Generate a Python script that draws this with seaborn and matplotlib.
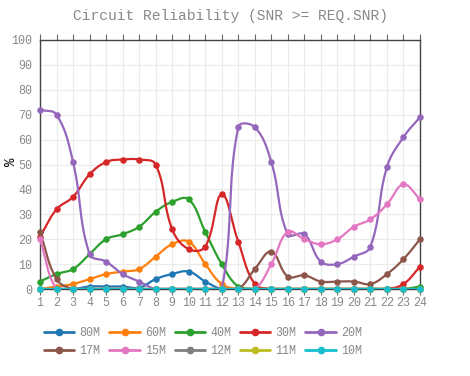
import numpy as np
import matplotlib.pyplot as plt
from matplotlib.lines import Line2D
import seaborn as sns

hours = list(range(1, 25))
bands = ['80M', '60M', '40M', '30M', '20M', '17M', '15M', '12M', '11M', '10M']

m80 = [0, 0, 0, 1, 1, 1, 0.5, 4, 6, 7, 3, 0, 0, 0, 0, 0, 0, 0, 0, 0, 0, 0, 0, 0]
m60 = [0, 1, 2, 4, 6, 7, 8, 13, 18, 19, 10, 2, 0, 0, 0, 0, 0, 0, 0, 0, 0, 0, 0, 0]
m40 = [3, 6, 8, 14, 20, 22, 25, 31, 35, 36, 23, 10, 1, 0, 0, 0, 0, 0, 0, 0, 0, 0, 0, 1]
m30 = [21, 32, 37, 46, 51, 52, 52, 50, 24, 16, 17, 38, 19, 2, 0, 0, 0, 0, 0, 0, 0, 0, 2, 9]
m20 = [72, 70, 51, 14, 11, 6, 3, 0, 0, 0, 0, 0, 65, 65, 51, 22, 22, 11, 10, 13, 17, 49, 61, 69]
m17 = [23, 4, 0, 0, 0, 0, 0, 0, 0, 0, 0, 0, 0, 8, 15, 5, 5.5, 3, 3, 3, 2, 6, 12, 20]
m15 = [20, 0, 0, 0, 0, 0, 0, 0, 0, 0, 0, 0, 0, 0, 10, 23, 20, 18, 20, 25, 28, 34, 42, 36]
m12 = [0] * 24
m11 = [0] * 24
m10 = [0] * 24
series = [m80, m60, m40, m30, m20, m17, m15, m12, m11, m10]

colors = sns.color_palette("tab10", 10)


def smooth(x, y, t=0.4, sx=16.5, sy=2.49, n=24):
    # cubic bezier curve through the points (tension style), for drawing only
    p = np.column_stack([np.array(x, float) * sx, np.array(y, float) * sy])
    cnt = len(p)
    cin, cout = [], []
    for i in range(cnt):
        p0 = p[max(i - 1, 0)]
        p1 = p[i]
        p2 = p[min(i + 1, cnt - 1)]
        d01 = np.hypot(*(p1 - p0))
        d12 = np.hypot(*(p2 - p1))
        tot = d01 + d12
        s01 = d01 / tot if tot else 0
        s12 = d12 / tot if tot else 0
        a = p1 - t * s01 * (p2 - p0)
        b = p1 + t * s12 * (p2 - p0)
        a[1] = np.clip(a[1], 0, 100 * sy)
        b[1] = np.clip(b[1], 0, 100 * sy)
        cin.append(a)
        cout.append(b)
    tt = np.linspace(0, 1, n)[:, None]
    pts = []
    for i in range(cnt - 1):
        P0, P1, P2, P3 = p[i], cout[i], cin[i + 1], p[i + 1]
        seg = ((1 - tt) ** 3) * P0 + 3 * ((1 - tt) ** 2) * tt * P1 + 3 * (1 - tt) * tt ** 2 * P2 + tt ** 3 * P3
        pts.append(seg if i == 0 else seg[1:])
    pts = np.vstack(pts)
    return pts[:, 0] / sx, pts[:, 1] / sy


sns.set_style("white")
plt.rcParams['font.family'] = ['Liberation Mono', 'DejaVu Sans Mono']

fig = plt.figure(figsize=(4.7, 3.76), dpi=100)
ax = fig.add_axes([40 / 470, 1 - 289 / 376, 380 / 470, 249 / 376])

for i, (name, vals) in enumerate(zip(bands, series)):
    sx, sy = smooth(hours, vals)
    sns.lineplot(x=sx, y=sy, color=colors[i], lw=1.6, sort=False, estimator=None,
                 ax=ax, zorder=3 + i * 0.1)
    sns.scatterplot(x=hours, y=vals, color=colors[i], s=22, edgecolor=colors[i],
                    linewidth=0, ax=ax, zorder=3.05 + i * 0.1, clip_on=False)

ax.set_xlim(1, 24)
ax.set_ylim(0, 100)
ax.set_xticks(hours)
ax.set_yticks(range(0, 101, 10))
ax.grid(True, color='#ebebeb', lw=0.9)
ax.set_axisbelow(True)
for s in ax.spines.values():
    s.set_color('#444444')
    s.set_linewidth(1.0)
ax.tick_params(axis='x', top=True, bottom=True, direction='out', length=4,
               color='#666666', labelsize=8.4, labelcolor='#888888', pad=2)
ax.tick_params(axis='y', left=False, labelsize=8.4, labelcolor='#888888', pad=2)
ax.set_ylabel('%', fontsize=10, color='black')
ax.yaxis.set_label_coords(-0.058, 0.51)
ax.set_xlabel('')

fig.text(0.49, 1 - 16 / 376, 'Circuit Reliability (SNR >= REQ.SNR)',
         ha='center', va='center', fontsize=10.5, color='#888888')

handles = [Line2D([], [], color=colors[i], lw=2, marker='o', markersize=4.5) for i in range(10)]
order = [0, 5, 1, 6, 2, 7, 3, 8, 4, 9]
ax.legend([handles[k] for k in order], [bands[k] for k in order],
          loc='upper left', bbox_to_anchor=(44 / 470, 1 - 327 / 376),
          bbox_transform=fig.transFigure, frameon=False, ncol=5,
          handlelength=2.6, handletextpad=0.45, columnspacing=0.75,
          labelspacing=0.55, borderpad=0, borderaxespad=0,
          prop={'size': 8.4}, labelcolor='#888888')

fig.savefig('out.png', dpi=100)
